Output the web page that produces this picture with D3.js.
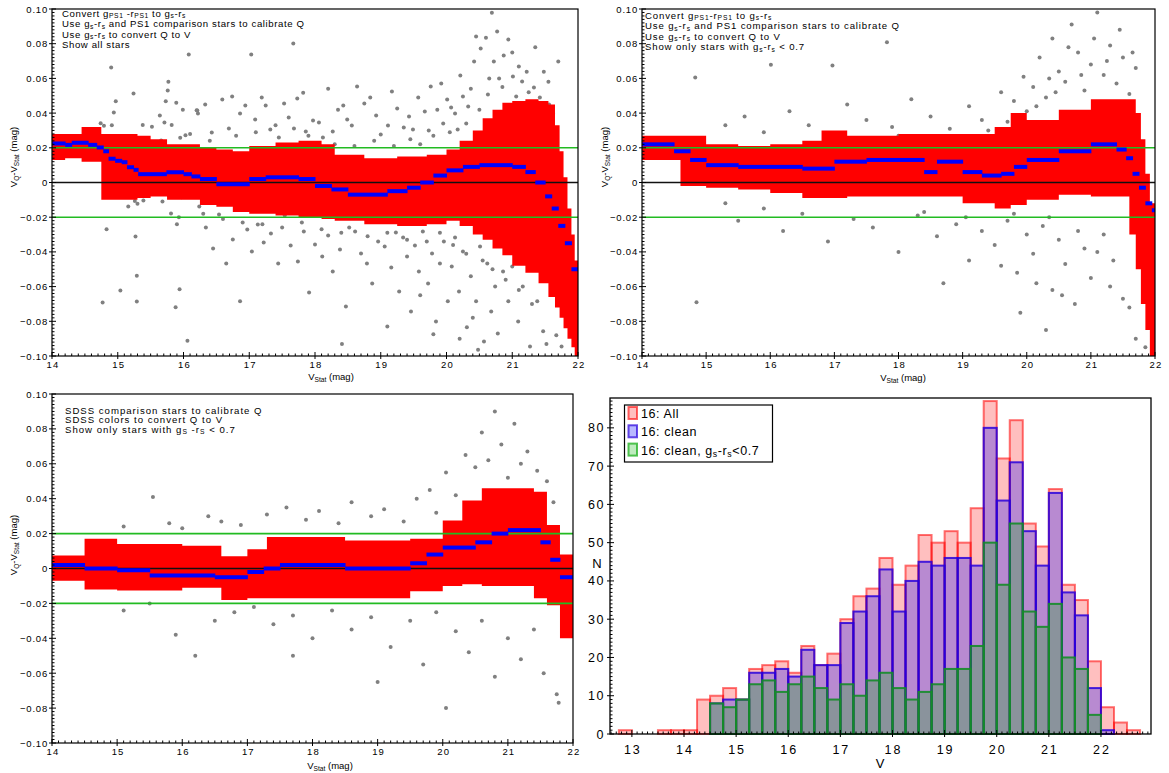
<!DOCTYPE html>
<html><head><meta charset="utf-8">
<script src="https://cdn.jsdelivr.net/npm/d3@7"></script>
<style>body{margin:0;background:#fff}svg text{font-family:"Liberation Sans",Arial,Helvetica,sans-serif;fill:#000}</style>
</head><body><svg id="c" width="1169" height="773"></svg>
<script>
// ---------- Panel 1 data ----------
const p1BandX  = [14.0,14.2,14.45,14.75,15.0,15.3,15.5,15.75,16.0,16.25,16.5,16.75,17.0,17.4,17.75,18.1,18.3,18.75,19.25,19.7,20.0,20.2,20.4,20.55,20.7,20.85,21.0,21.2,21.4,21.55,21.65,21.72,21.78,21.84,21.9,21.95,22.0];
const p1BandHi = [0.028,0.028,0.032,0.028,0.028,0.027,0.025,0.022,0.022,0.020,0.019,0.018,0.021,0.023,0.024,0.022,0.016,0.014,0.015,0.016,0.019,0.024,0.030,0.037,0.042,0.046,0.047,0.048,0.047,0.045,0.033,0.018,0.003,-0.015,-0.030,-0.045,-0.045];
const p1BandLo = [0.013,0.014,0.012,-0.010,-0.010,-0.009,-0.008,-0.010,-0.010,-0.013,-0.014,-0.017,-0.018,-0.019,-0.020,-0.021,-0.022,-0.024,-0.025,-0.024,-0.022,-0.025,-0.030,-0.033,-0.038,-0.042,-0.048,-0.052,-0.058,-0.066,-0.072,-0.078,-0.084,-0.090,-0.095,-0.100,-0.100];
const p1MedX = [14.0,14.2,14.3,14.55,14.68,14.78,14.86,14.96,15.06,15.14,15.24,15.31,15.74,16.0,16.12,16.25,16.5,17.0,17.25,17.75,18.0,18.25,18.5,19.1,19.4,19.6,19.8,20.0,20.25,20.5,21.0,21.2,21.35,21.5,21.6,21.7,21.8,21.9,22.0];
const p1Med  = [0.0225,0.0217,0.0229,0.0217,0.0202,0.018,0.0137,0.0125,0.0117,0.0088,0.0073,0.0048,0.0059,0.0048,0.0035,0.002,-0.001,0.002,0.003,0.002,-0.002,-0.004,-0.007,-0.005,-0.003,0.000,0.004,0.007,0.009,0.010,0.009,0.006,0.000,-0.008,-0.015,-0.025,-0.035,-0.050];
const p1PtsX = [14.74,14.79,14.91,14.94,14.97,15.24,15.22,15.38,15.52,15.64,15.66,15.71,15.73,15.77,15.82,15.89,15.99,15.95,16.03,16.2,16.22,14.90,16.08,17.03,17.67,15.76,
 16.21,16.33,16.43,16.59,16.69,16.74,16.86,16.94,17.09,17.19,17.25,17.32,17.45,17.53,17.60,17.68,17.73,17.82,17.86,17.97,18.06,18.12,18.20,18.27,18.35,18.43,18.49,18.56,18.64,18.75,18.84,18.93,19.00,19.11,19.17,19.25,19.35,19.43,19.49,19.57,19.67,19.73,19.76,19.86,19.92,19.95,20.01,20.07,20.13,20.17,20.21,20.25,20.33,20.37,20.42,20.45,20.52,20.60,20.63,20.69,20.72,20.77,20.80,20.87,20.94,21.01,21.06,21.10,21.15,21.22,21.33,21.42,21.48,21.56,21.62,21.70,
 16.1,16.4,16.8,17.1,17.4,17.9,18.3,18.6,18.9,19.2,19.45,19.6,19.8,20.05,20.3,20.5,20.65,20.85,21.0,21.25,21.35,21.55,
 14.77,14.83,15.04,15.16,15.27,15.3,15.29,15.29,15.26,15.39,15.68,15.77,15.81,15.9,15.93,15.94,15.97,15.88,16.06,
 16.24,16.34,16.45,16.54,16.65,16.75,16.86,16.97,17.04,17.13,17.22,17.33,17.44,17.54,17.63,17.74,17.83,17.91,18.00,18.11,18.20,18.27,18.38,18.47,18.52,18.61,18.70,18.79,18.87,18.96,19.06,19.16,19.23,19.28,19.34,19.40,19.46,19.52,19.58,19.64,19.72,19.78,19.84,19.90,19.96,20.02,20.08,20.13,20.19,20.25,20.31,20.37,20.45,20.51,20.57,20.62,20.68,20.74,20.78,20.86,20.94,21.00,21.09,21.16,21.27,21.38,21.47,
 16.3,16.6,16.9,17.2,17.5,17.8,18.1,18.4,18.8,19.1,19.4,19.7,19.9,20.1,20.3,20.55,20.7,20.9,21.1,21.3,20.4,20.2,19.6,19.1,
 18.41,19.80,20.48,21.52,21.67,21.75];
const p1PtsY = [0.0342,0.0327,0.033,0.0403,0.0469,0.0513,0.0263,0.0332,0.0321,0.0386,0.0242,0.0346,0.0469,0.058,0.0332,0.046,0.042,0.0258,0.0273,0.0417,0.0398,0.0663,0.0738,0.0738,0.0801,0.053,
 0.0415,0.0449,0.0288,0.0478,0.0311,0.0495,0.0397,0.0444,0.0363,0.0490,0.0444,0.0305,0.0259,0.0455,0.0374,0.0311,0.0484,0.0518,0.0294,0.0357,0.0346,0.0259,0.0541,0.0294,0.0420,0.0444,0.0363,0.0328,0.0553,0.0455,0.0490,0.0386,0.0276,0.0328,0.0524,0.0426,0.0317,0.0380,0.0305,0.0490,0.0409,0.0300,0.0553,0.0420,0.0570,0.0340,0.0478,0.0432,0.0397,0.0305,0.0616,0.0495,0.0438,0.0541,0.0697,0.0841,0.0772,0.0835,0.0507,0.0979,0.0697,0.0870,0.0599,0.0732,0.0824,0.0611,0.0495,0.0668,0.0582,0.0639,0.0547,0.0490,0.0639,0.0449,0.0397,0.0697,
 0.028,0.024,0.027,0.029,0.033,0.027,0.022,0.021,0.024,0.021,0.025,0.022,0.027,0.029,0.034,0.042,0.060,0.055,0.075,0.052,0.078,0.058,
 -0.0692,-0.0269,-0.0622,-0.0138,-0.0311,-0.0123,-0.0538,-0.0686,-0.0106,-0.0104,-0.011,-0.0058,-0.0179,-0.024,-0.02,-0.0615,-0.0085,-0.0719,-0.0912,
 -0.0138,-0.0259,-0.0380,-0.0184,-0.0467,-0.0328,-0.0685,-0.0271,-0.0397,-0.0242,-0.0346,-0.0294,-0.0467,-0.0190,-0.0363,-0.0455,-0.0282,-0.0634,-0.0357,-0.0426,-0.0305,-0.0513,-0.0386,-0.0714,-0.0259,-0.0282,-0.0409,-0.0467,-0.0582,-0.0340,-0.0369,-0.0490,-0.0288,-0.0628,-0.0317,-0.0426,-0.0743,-0.0363,-0.0513,-0.0282,-0.0582,-0.0409,-0.0801,-0.0467,-0.0340,-0.0685,-0.0484,-0.0317,-0.0628,-0.0397,-0.0835,-0.0541,-0.0685,-0.0369,-0.0916,-0.0467,-0.0743,-0.0599,-0.0870,-0.0513,-0.0685,-0.0484,-0.0801,-0.0599,-0.0945,-0.0685,-0.0858,
 -0.018,-0.021,-0.023,-0.024,-0.026,-0.023,-0.027,-0.029,-0.031,-0.029,-0.033,-0.034,-0.029,-0.036,-0.041,-0.045,-0.050,-0.056,-0.062,-0.070,-0.078,-0.090,-0.065,-0.083,
 -0.0931,-0.0874,-0.0964,-0.0931,-0.0881,-0.0945];
// ---------- Panel 2 data ----------
const p2BandX  = [14.0,14.6,15.0,15.5,16.0,16.5,16.8,17.2,18.0,19.0,19.5,19.75,20.0,20.5,21.0,21.6,21.7,21.78,21.85,21.92,22.0];
const p2BandHi = [0.027,0.027,0.022,0.021,0.022,0.024,0.030,0.027,0.028,0.028,0.032,0.040,0.036,0.042,0.048,0.048,0.040,0.025,0.005,-0.012,-0.012];
const p2BandLo = [0.013,-0.002,-0.003,-0.004,-0.006,-0.009,-0.009,-0.008,-0.008,-0.012,-0.015,-0.013,-0.010,-0.007,-0.008,-0.030,-0.050,-0.070,-0.085,-0.100,-0.100];
const p2MedX = [14.0,14.5,14.75,15.0,15.5,16.5,17.0,17.5,18.4,18.6,19.0,19.3,19.6,19.8,20.0,20.5,21.0,21.4,21.55,21.65,21.75,21.85,21.95,22.0];
const p2Med  = [0.022,0.018,0.013,0.010,0.009,0.008,0.012,0.013,0.006,0.012,0.006,0.004,0.005,0.009,0.013,0.018,0.022,0.019,0.014,0.005,-0.003,-0.012,-0.016,-0.016];
const p2PtsX = [14.83,16.01,16.97,17.82,15.3,15.6,15.9,16.3,16.6,17.2,17.5,17.9,18.2,18.5,18.8,19.1,19.3,19.6,19.8,19.95,20.1,20.2,20.3,20.4,20.5,20.6,20.7,20.8,20.9,21.0,21.1,21.2,21.3,21.4,21.5,21.6,21.7,20.0,19.4,18.0,
 19.7,20.15,20.45,20.65,20.85,21.05,21.25,21.45,21.65,20.35,19.85,
 14.85,15.3,15.5,15.9,16.2,16.5,16.9,17.3,17.6,18.0,18.3,18.6,18.9,19.1,19.3,19.5,19.7,19.85,20.0,20.1,20.25,20.4,20.5,20.6,20.75,20.9,21.0,21.2,21.35,21.5,21.7,19.9,20.3,18.7,
 19.6,19.8,20.15,20.35,20.55,20.8,21.1,21.3,21.6,21.85,18.4,19.05];
const p2PtsY = [0.0605,0.0678,0.0674,0.0808,0.033,0.038,0.029,0.041,0.033,0.045,0.036,0.032,0.048,0.038,0.031,0.044,0.036,0.052,0.047,0.061,0.055,0.072,0.049,0.083,0.064,0.058,0.091,0.075,0.053,0.068,0.098,0.062,0.079,0.057,0.072,0.051,0.066,0.041,0.030,0.027,
 0.035,0.044,0.052,0.078,0.062,0.083,0.070,0.088,0.075,0.060,0.033,
 -0.069,-0.012,-0.022,-0.015,-0.028,-0.018,-0.034,-0.021,-0.026,-0.040,-0.019,-0.031,-0.024,-0.045,-0.028,-0.036,-0.022,-0.052,-0.030,-0.041,-0.025,-0.062,-0.033,-0.047,-0.070,-0.038,-0.055,-0.030,-0.045,-0.067,-0.090,-0.075,-0.085,-0.058,
 -0.048,-0.018,-0.058,-0.020,-0.065,-0.028,-0.040,-0.060,-0.072,-0.095,-0.017,-0.020];
// ---------- Panel 3 data ----------
const p3BandX  = [14.0,14.5,15.0,16.0,16.6,17.0,17.3,18.5,19.5,20.0,20.3,20.6,21.4,21.6,21.8,22.0];
const p3BandHi = [0.0075,0.017,0.014,0.013,0.007,0.011,0.018,0.016,0.017,0.0275,0.039,0.046,0.044,0.025,0.008,0.008];
const p3BandLo = [-0.007,-0.012,-0.0126,-0.011,-0.018,-0.017,-0.017,-0.017,-0.013,-0.010,-0.009,-0.010,-0.017,-0.021,-0.040,-0.040];
const p3MedX = [14.0,14.5,15.0,15.5,16.5,17.0,17.25,17.5,18.5,19.5,19.75,20.0,20.5,20.75,21.0,21.5,21.65,21.8,22.0];
const p3Med  = [0.002,0.000,-0.001,-0.004,-0.005,-0.002,0.000,0.002,0.000,0.003,0.008,0.012,0.015,0.020,0.022,0.015,0.005,-0.005,-0.005];
const p3PtsX = [15.55,15.1,15.8,16.0,16.4,16.6,16.9,17.3,17.6,17.9,18.1,18.4,18.6,18.9,19.1,19.4,19.6,19.8,19.9,20.05,20.2,20.35,20.5,20.6,20.7,20.8,20.9,21.0,21.1,21.2,21.3,21.45,21.6,21.7,
 15.1,15.5,15.9,16.2,16.5,16.8,17.1,17.4,17.7,18.0,18.3,18.6,18.9,19.2,19.5,19.7,19.9,20.05,20.2,20.4,20.6,20.8,21.0,21.2,21.4,21.55,21.75,21.78,19.0,17.7];
const p3PtsY = [0.041,0.024,0.026,0.023,0.030,0.027,0.025,0.031,0.035,0.028,0.033,0.026,0.038,0.030,0.034,0.027,0.040,0.045,0.032,0.055,0.042,0.065,0.058,0.078,0.062,0.090,0.071,0.052,0.083,0.060,0.067,0.056,0.050,0.038,
 -0.024,-0.020,-0.038,-0.050,-0.030,-0.025,-0.022,-0.032,-0.027,-0.040,-0.024,-0.035,-0.028,-0.045,-0.030,-0.055,-0.025,-0.080,-0.036,-0.048,-0.030,-0.062,-0.040,-0.052,-0.035,-0.060,-0.072,-0.077,-0.065,-0.050];
// ---------- Histogram data (bin starts, width 0.25) ----------
const histStart = [12.75,13.0,13.25,13.5,13.75,14.0,14.25,14.5,14.75,15.0,15.25,15.5,15.75,16.0,16.25,16.5,16.75,17.0,17.25,17.5,17.75,18.0,18.25,18.5,18.75,19.0,19.25,19.5,19.75,20.0,20.25,20.5,20.75,21.0,21.25,21.5,21.75,22.0,22.25,22.5];
const histAll   = [1,0,0,1,1,1,9,10,12,9,17,18,19,16,23,18,21,30,36,38,46,39,44,52,50,53,50,59,87,72,82,55,49,64,39,35,19,7,3,1];
const histClean = [0,0,0,0,0,0,0,8,9,9,16,16,17,15,22,18,18,29,32,36,43,32,40,45,44,46,46,44,80,61,71,53,44,63,37,31,12,1,0,0];
const histBlue  = [0,0,0,0,0,0,0,8,7,9,13,14,11,13,15,12,9,13,10,14,16,12,9,11,13,17,17,23,50,39,55,32,28,34,20,17,5,0,0,0];
const histBinW = 0.25;
const histLegend = ["16: All","16: clean","16: clean, g_s-r_s<0.7"];

const svg = d3.select("#c");
const S = s=>({s});
function rich(g, x, y, parts, size, anchor, rot, ls, sub){
  const t = g.append("text").attr("x",x).attr("y",y).attr("font-size",size).attr("text-anchor",anchor||"start");
  if(ls) t.attr("letter-spacing",ls);
  if(rot) t.attr("transform",`rotate(${rot},${x},${y})`);
  let shifted=false; const d=sub||size*0.2;
  parts.forEach(p=>{
    if(typeof p==="string"){ const ts=t.append("tspan").text(p); if(shifted){ts.attr("dy",-d);shifted=false;} }
    else { const ts=t.append("tspan").attr("font-size",size*0.7).text(p.s); if(!shifted){ts.attr("dy",d);shifted=true;} }
  });
  return t;
}

function scatterPanel(c){
  const x = d3.scaleLinear().domain([14,22]).range([c.x0,c.x1]);
  const y = d3.scaleLinear().domain([-0.1,0.1]).range([c.y1,c.y0]);
  const g = svg.append("g");
  const id = "clip"+c.id;
  g.append("clipPath").attr("id",id).append("rect").attr("x",c.x0).attr("y",c.y0).attr("width",c.x1-c.x0).attr("height",c.y1-c.y0);
  const pg = g.append("g").attr("clip-path",`url(#${id})`);
  pg.selectAll("circle").data(c.px.map((d,i)=>[d,c.py[i]])).join("circle")
    .attr("cx",d=>x(d[0])).attr("cy",d=>y(d[1])).attr("r",2).attr("fill","#808080");
  const band = c.bx.map((d,i)=>({x:d,hi:c.bhi[i],lo:c.blo[i]}));
  pg.append("path").datum(band).attr("fill","#f00")
    .attr("d",d3.area().x(d=>x(d.x)).y0(d=>y(d.lo)).y1(d=>y(d.hi)).curve(d3.curveStepAfter));
  [0.02,-0.02].forEach(v=>pg.append("line").attr("x1",c.x0).attr("x2",c.x1).attr("y1",y(v)).attr("y2",y(v)).attr("stroke","#22bb22").attr("stroke-width",1.6));
  pg.append("line").attr("x1",c.x0).attr("x2",c.x1).attr("y1",y(0)).attr("y2",y(0)).attr("stroke","#111").attr("stroke-width",1.6);
  const med = c.mx.slice(0,-1).map((d,i)=>({x0:d,x1:c.mx[i+1],v:c.mv[i]}));
  pg.selectAll("rect.med").data(med).join("rect").attr("class","med")
    .attr("x",d=>x(d.x0)).attr("width",d=>Math.max(1,x(d.x1)-x(d.x0)+0.5))
    .attr("y",d=>y(d.v)-2).attr("height",4).attr("fill","#0000ff");
  g.append("rect").attr("x",c.x0).attr("y",c.y0).attr("width",c.x1-c.x0).attr("height",c.y1-c.y0).attr("fill","none").attr("stroke","#000").attr("stroke-width",1.2);
  d3.range(-100,101,2).forEach(k=>{
    const v=k/1000, yy=y(v), major = k%20===0;
    g.append("line").attr("x1",major?c.x0-3:c.x0).attr("x2",c.x0+(major?4:2.5)).attr("y1",yy).attr("y2",yy).attr("stroke","#000").attr("stroke-width",1);
    if(major) g.append("text").attr("x",c.x0-4).attr("y",yy+3.5).attr("text-anchor","end").attr("font-size",9.5).attr("letter-spacing",0.8)
      .text(k===0?"0":d3.format(".2f")(v));
  });
  d3.range(140,221,1).forEach(k=>{
    const v=k/10, xx=x(v), major=k%10===0;
    g.append("line").attr("x1",xx).attr("x2",xx).attr("y1",major?c.y1+3:c.y1).attr("y2",c.y1-(major?4:2.5)).attr("stroke","#000").attr("stroke-width",1);
    if(major) g.append("text").attr("x",xx+1).attr("y",c.y1+12).attr("text-anchor","middle").attr("font-size",9.5).attr("letter-spacing",1.2).text(v);
  });
  rich(g, c.xl[0], c.xl[1], ["V",S("Stat")," (mag)"], 9.5, "middle");
  rich(g, c.yl[0], c.yl[1], ["V",S("Q"),"-V",S("Stat")," (mag)"], 9.5, "middle", -90);
  c.text.forEach((ln,i)=>rich(g, c.tx, c.ty+i*c.tdy, ln, c.tfs, "start", 0, c.tls, 1.4));
}

scatterPanel({id:1,x0:52,x1:578,y0:9,y1:356,bx:p1BandX,bhi:p1BandHi,blo:p1BandLo,mx:p1MedX,mv:p1Med,px:p1PtsX,py:p1PtsY,
  xl:[331,380],yl:[17,157],tx:62,ty:16.5,tdy:10.6,tfs:9.6,tls:0.6,
  text:[["Convert g",S("PS1")," -r",S("PS1")," to g",S("s"),"-r",S("s")],
        ["Use g",S("s"),"-r",S("s")," and PS1 comparison stars to calibrate Q"],
        ["Use g",S("s"),"-r",S("s")," to convert Q to V"],
        ["Show all stars"]]});
scatterPanel({id:2,x0:642,x1:1155,y0:9,y1:356,bx:p2BandX,bhi:p2BandHi,blo:p2BandLo,mx:p2MedX,mv:p2Med,px:p2PtsX,py:p2PtsY,
  xl:[903,381],yl:[608,157],tx:645,ty:18.5,tdy:10.6,tfs:9.6,tls:0.85,
  text:[["Convert g",S("PS1"),"-r",S("PS1")," to g",S("s"),"-r",S("s")],
        ["Use g",S("s"),"-r",S("s")," and PS1 comparison stars to calibrate Q"],
        ["Use  g",S("s"),"-r",S("s")," to convert Q to V"],
        ["Show only stars with g",S("s"),"-r",S("s")," < 0.7"]]});
scatterPanel({id:3,x0:52,x1:573,y0:394,y1:743,bx:p3BandX,bhi:p3BandHi,blo:p3BandLo,mx:p3MedX,mv:p3Med,px:p3PtsX,py:p3PtsY,
  xl:[330,769],yl:[17,545],tx:65,ty:413.5,tdy:9.6,tfs:9.6,tls:1.0,
  text:[["SDSS comparison stars to calibrate Q"],
        ["SDSS colors to convert Q to V"],
        ["Show only stars with g",S("S")," -r",S("S")," < 0.7"]]});

// ---------- Histogram ----------
(function(){
  const x0=610,x1=1151,y0=398,y1=734;
  const x = d3.scaleLinear().domain([12.58,22.96]).range([x0,x1]);
  const y = d3.scaleLinear().domain([0,87.8]).range([y1,y0]);
  const g = svg.append("g");
  const series = [
    {v:histAll, fill:"rgba(255,0,0,0.25)", stroke:"rgba(255,0,0,0.55)"},
    {v:histClean, fill:"rgba(0,0,255,0.28)", stroke:"rgba(40,0,220,0.85)"},
    {v:histBlue, fill:"rgba(0,175,0,0.25)", stroke:"rgba(20,140,40,0.9)"}];
  series.forEach(s=>{
    g.append("g").selectAll("rect").data(histStart.map((d,i)=>[d,s.v[i]]).filter(d=>d[1]>0)).join("rect")
      .attr("x",d=>x(d[0])).attr("width",d=>x(d[0]+histBinW)-x(d[0]))
      .attr("y",d=>y(d[1])).attr("height",d=>y(0)-y(d[1]))
      .attr("fill",s.fill).attr("stroke",s.stroke).attr("stroke-width",2);
  });
  g.append("rect").attr("x",x0).attr("y",y0).attr("width",x1-x0).attr("height",y1-y0).attr("fill","none").attr("stroke","#000").attr("stroke-width",1.3);
  d3.range(0,88,1).forEach(k=>{
    const yy=y(k), major=k%10===0;
    g.append("line").attr("x1",major?x0-3:x0).attr("x2",x0+(major?4:2.5)).attr("y1",yy).attr("y2",yy).attr("stroke","#000").attr("stroke-width",1);
    if(major) g.append("text").attr("x",x0-5).attr("y",yy+4.5).attr("text-anchor","end").attr("font-size",12.5).attr("letter-spacing",1.5).text(k);
  });
  d3.range(126,230,1).forEach(k=>{
    const v=k/10, xx=x(v), major=k%10===0;
    g.append("line").attr("x1",xx).attr("x2",xx).attr("y1",major?y1+3:y1).attr("y2",y1-(major?4:2.5)).attr("stroke","#000").attr("stroke-width",1);
    if(major) g.append("text").attr("x",xx+1).attr("y",y1+20).attr("text-anchor","middle").attr("font-size",12.5).attr("letter-spacing",2).text(v);
  });
  g.append("text").attr("x",880).attr("y",768).attr("text-anchor","middle").attr("font-size",13).text("V");
  g.append("text").attr("x",597).attr("y",568).attr("text-anchor","middle").attr("font-size",13).text("N");
  const lg = g.append("g");
  lg.append("rect").attr("x",624.5).attr("y",405).attr("width",148).attr("height",57).attr("fill","#fff").attr("stroke","#000").attr("stroke-width",1.2);
  const lfill=[["rgba(255,0,0,0.25)","rgba(255,0,0,0.6)"],["rgba(0,0,255,0.28)","rgba(40,0,220,0.7)"],["rgba(0,175,0,0.25)","rgba(40,180,40,0.8)"]];
  histLegend.forEach((t,i)=>{
    const yy = 407+i*18.3;
    lg.append("rect").attr("x",628.5).attr("y",yy).attr("width",8.5).attr("height",12).attr("fill",lfill[i][0]).attr("stroke",lfill[i][1]).attr("stroke-width",2);
    const parts = i<2 ? [t] : ["16: clean, g",S("s"),"-r",S("s"),"<0.7"];
    rich(lg, 641, yy+11, parts, 12.5, "start", 0, 0.6);
  });
})();
</script></body></html>
